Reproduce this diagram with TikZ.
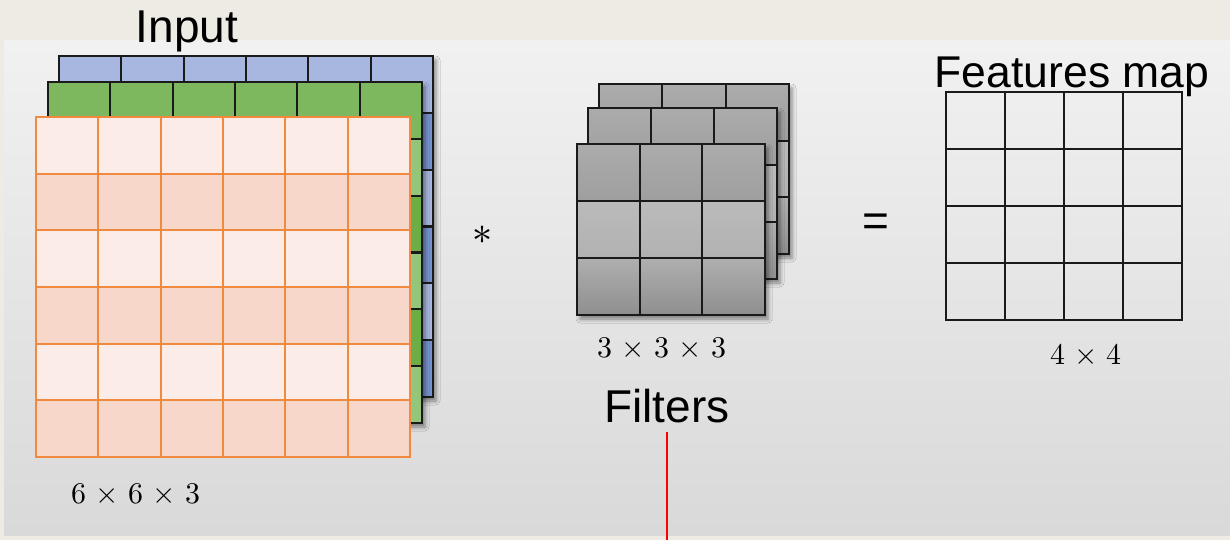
\documentclass[tikz,border=0pt]{standalone}
\usepackage{fontspec}
\usepackage{unicode-math}
\setmainfont{Liberation Sans}
\setmathfont{Latin Modern Math}
\usetikzlibrary{shadows.blur}

\definecolor{pageBg}{HTML}{EEEBE4}
\definecolor{panelTop}{HTML}{F1F1F1}
\definecolor{panelBot}{HTML}{D9D9D9}
\definecolor{bluA}{HTML}{A7B7DF}
\definecolor{bluB}{HTML}{7592CC}
\definecolor{grnTop}{HTML}{7EB85E}
\definecolor{grnA}{HTML}{93C57A}
\definecolor{grnB}{HTML}{6CAD46}
\definecolor{orgLine}{HTML}{F08A3E}
\definecolor{orgA}{HTML}{FBECE7}
\definecolor{orgB}{HTML}{F8D7CB}
\definecolor{gryA}{HTML}{A7A7A7}
\definecolor{gryB}{HTML}{B7B7B7}
\definecolor{gryC}{HTML}{9B9B9B}
\definecolor{gridInk}{HTML}{1A1A1A}

\tikzset{
  gridline/.style={draw=gridInk, line width=2.1pt},
  orgline/.style={draw=orgLine, line width=1.8pt},
  layershadow/.style={blur shadow={shadow xshift=3pt, shadow yshift=-4pt,
      shadow blur radius=4pt, shadow opacity=45}},
  bigtext/.style={inner sep=0pt, anchor=base, font=\fontsize{46}{46}\selectfont},
  dimtext/.style={inner sep=0pt, font=\fontsize{30}{30}\selectfont},
  redline/.style={draw=red, line width=2pt},
}

% #1,#2 top-left corner; #3,#4 cell width/height; #5 columns; #6 rows; #7 line style
\newcommand\cellgrid[7]{%
  \foreach \i in {0,...,#5}
    \draw[#7] ({#1+\i*#3},#2) -- ({#1+\i*#3},{#2+#6*#4});
  \foreach \j in {0,...,#6}
    \draw[#7] (#1,{#2+\j*#4}) -- ({#1+#5*#3},{#2+\j*#4});
  \draw[#7, line join=miter] (#1,#2) rectangle ({#1+#5*#3},{#2+#6*#4});
}
% slightly widened multiplication sign for the size labels
\newcommand\bytimes{\mkern1.5mu\times\mkern1.5mu}

\begin{document}
\begin{tikzpicture}[x=1pt, y=-1pt]
\useasboundingbox (0,0) rectangle (1230,540);

% page and panel
\fill[pageBg] (0,0) rectangle (1230,540);
\shade[top color=panelTop, bottom color=panelBot] (4,41) rectangle (1230,535);

% ---- input volume: blue channel (back) ----
\path[layershadow, fill=bluA] (59,56) rectangle (433,397);
\foreach \r/\c in {0/bluA,1/bluB,2/bluA,3/bluB,4/bluA,5/bluB}
  \fill[\c] (59,{56+\r*56.83}) rectangle (433,{56+(\r+1)*56.83});
\cellgrid{59}{56}{62.33}{56.83}{6}{6}{gridline}

% ---- green channel ----
\path[layershadow, fill=grnA] (48,82) rectangle (422,423);
\foreach \r/\c in {0/grnTop,1/grnA,2/grnB,3/grnA,4/grnB,5/grnA}
  \fill[\c] (48,{82+\r*56.83}) rectangle (422,{82+(\r+1)*56.83});
\cellgrid{48}{82}{62.33}{56.83}{6}{6}{gridline}

% ---- orange channel (front) ----
\foreach \r/\c in {0/orgA,1/orgB,2/orgA,3/orgB,4/orgA,5/orgB}
  \fill[\c] (36,{117+\r*56.67}) rectangle (410,{117+(\r+1)*56.67});
\cellgrid{36}{117}{62.33}{56.67}{6}{6}{orgline}

% ---- filter stack ----
\newcommand\filterlayer[4]{%
  \path[layershadow, fill=gryA] (#1,#2) rectangle ({#1+3*#3},{#2+3*#4});
  \shade[top color=gryA!95!white, bottom color=gryA!95!black] (#1,#2) rectangle ({#1+3*#3},{#2+#4});
  \shade[top color=gryB!95!white, bottom color=gryB!97!black] (#1,{#2+#4}) rectangle ({#1+3*#3},{#2+2*#4});
  \shade[top color=gryC!80!white, bottom color=gryC!92!black] (#1,{#2+2*#4}) rectangle ({#1+3*#3},{#2+3*#4});
  \cellgrid{#1}{#2}{#3}{#4}{3}{3}{gridline}
}
\filterlayer{599}{84}{63.33}{56.67}
\filterlayer{588}{108}{63}{57}
\filterlayer{577}{144}{62.67}{57}

% ---- feature map ----
\cellgrid{946}{92}{59}{57}{4}{4}{gridline}

% ---- labels ----
\node[bigtext] (input) at (187,43) {Input};
\node[bigtext, font=\fontsize{44.5}{44.5}\selectfont] (fmap) at (1072,88) {Features map};
\node[bigtext] (filters) at (667,422) {Filters};

\node[inner sep=0pt, font=\fontsize{40}{40}\selectfont] (conv) at (482,235) {$\ast$};
\node[inner sep=0pt, font=\fontsize{46}{46}\selectfont] (equals) at (876,225) {=};

\node[dimtext] (indim) at (136,494) {$6\bytimes6\bytimes3$};
\node[dimtext] (fdim) at (662,348) {$3\bytimes3\bytimes3$};
\node[dimtext] (odim) at (1086,354) {$4\bytimes4$};

% pointer line from the filters label
\coordinate (pointerEnd) at (667,540);
\draw[redline] ([yshift=-9pt]filters.south) -- (pointerEnd);
\end{tikzpicture}
\end{document}
